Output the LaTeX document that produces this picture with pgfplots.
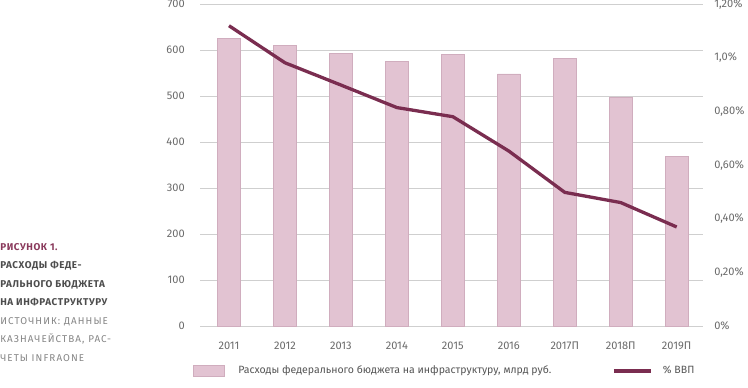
\documentclass[border=0pt]{standalone}
\usepackage{pgfplots}
\pgfplotsset{compat=1.18}
\usepackage{fontspec}
\setmainfont{Fira Sans}
\newfontfamily\capfont[LetterSpace=6]{Fira Sans}
\newfontfamily\srcfont[LetterSpace=11]{Fira Sans}
\definecolor{barfill}{HTML}{E2C3D2}
\definecolor{baredge}{HTML}{D0ADBE}
\definecolor{linec}{HTML}{7A2D50}
\definecolor{gridc}{HTML}{CFCFCF}
\definecolor{txt}{HTML}{6A6A6A}
\definecolor{legtxt}{HTML}{555555}
\definecolor{capred}{HTML}{8A3A5C}
\definecolor{capdark}{HTML}{4D4D4D}
\definecolor{capgray}{HTML}{858585}
\newlength\px
\setlength\px{0.75pt}
\begin{document}
\begin{tikzpicture}
\path[use as bounding box] (0,0) rectangle (748\px,387\px);
% caption
\node[anchor=base west,inner sep=0pt,text=capred,font=\capfont\bfseries\fontsize{7.4}{9}\selectfont] at (0,136.8\px) {РИСУНОК 1.};
\node[anchor=base west,inner sep=0pt,text=capdark,font=\capfont\bfseries\fontsize{7.4}{9}\selectfont] at (0,118.3\px) {РАСХОДЫ ФЕДЕ-};
\node[anchor=base west,inner sep=0pt,text=capdark,font=\capfont\bfseries\fontsize{7.4}{9}\selectfont] at (0,99.8\px) {РАЛЬНОГО БЮДЖЕТА};
\node[anchor=base west,inner sep=0pt,text=capdark,font=\capfont\bfseries\fontsize{7.4}{9}\selectfont] at (0,81.3\px) {НА ИНФРАСТРУКТУРУ};
\node[anchor=base west,inner sep=0pt,text=capgray,font=\srcfont\fontsize{7.4}{9}\selectfont] at (0,62.8\px) {ИСТОЧНИК: ДАННЫЕ};
\node[anchor=base west,inner sep=0pt,text=capgray,font=\srcfont\fontsize{7.4}{9}\selectfont] at (0,44.3\px) {КАЗНАЧЕЙСТВА, РАС-};
\node[anchor=base west,inner sep=0pt,text=capgray,font=\srcfont\fontsize{7.4}{9}\selectfont] at (0,25.8\px) {ЧЕТЫ INFRAONE};
\begin{axis}[
  at={(200\px,61\px)}, anchor=south west,
  scale only axis, width=503\px, height=322\px,
  xmin=-0.518, xmax=8.47, ymin=0, ymax=700,
  axis line style={draw=none},
  major tick length=0pt,
  tick style={draw=none},
  ytick={0,100,...,700},
  ymajorgrids, grid style={gridc, line width=1\px},
  xtick={0,...,8},
  xticklabels={2011,2012,2013,2014,2015,2016,2017П,2018П,2019П},
  /pgf/number format/assume math mode=true,
  tick label style={font=\fontsize{8.3}{10}\selectfont, text=txt},
  yticklabel style={anchor=east, inner sep=0pt, xshift=-15\px},
  xticklabel style={anchor=north, inner sep=0pt, yshift=-16\px},
]
\addplot[ybar, bar width=23\px, fill=barfill, draw=baredge, line width=0.6\px]
  coordinates {(0,626) (1,610) (2,593) (3,575) (4,590) (5,548) (6,581) (7,498) (8,369)};
\end{axis}
\begin{axis}[
  at={(200\px,61\px)}, anchor=south west,
  scale only axis, width=503\px, height=322\px,
  xmin=-0.518, xmax=8.47, ymin=0, ymax=1.2,
  axis y line*=right, axis x line=none,
  axis line style={draw=none},
  major tick length=0pt,
  tick style={draw=none},
  ytick={0,0.2,0.4,0.6,0.8,1.0,1.2},
  yticklabels={0\%,{0,20\%},{0,40\%},{0,60\%},{0,80\%},{1,0\%},{1,20\%}},
  tick label style={font=\fontsize{8.3}{10}\selectfont, text=txt},
  yticklabel style={anchor=west, inner sep=0pt, xshift=11\px},
  legend style={at={(-0.0139,-0.1398)}, anchor=west, draw=none, fill=none,
    inner sep=0pt, outer sep=0pt, legend columns=2, column sep=0pt,
    font=\fontsize{7.9}{10}\selectfont, text=legtxt,
    nodes={inner sep=0pt}},
  legend cell align=left,
]
\addlegendimage{legend image code/.code={
  \fill[barfill,draw=baredge,line width=0.6\px] (0,-5.5\px) rectangle (31\px,5.5\px);
  \path[draw=none,fill=none] (0,0) rectangle (45\px,0.1\px);}}
\addlegendentry{\makebox[374\px][l]{Расходы федерального бюджета на инфраструктуру, млрд руб.}}
\addplot[linec, line width=3.3\px, line join=round,
  legend image code/.code={
  \draw[linec,line width=3.3\px] (0,0) -- (37\px,0);
  \path[draw=none,fill=none] (0,0) rectangle (49\px,0.1\px);}]
  coordinates {(0,1.119) (1,0.981) (2,0.898) (3,0.814) (4,0.780) (5,0.652) (6,0.498) (7,0.460) (8,0.369)};
\addlegendentry{\% ВВП}
\end{axis}
\end{tikzpicture}
\end{document}
